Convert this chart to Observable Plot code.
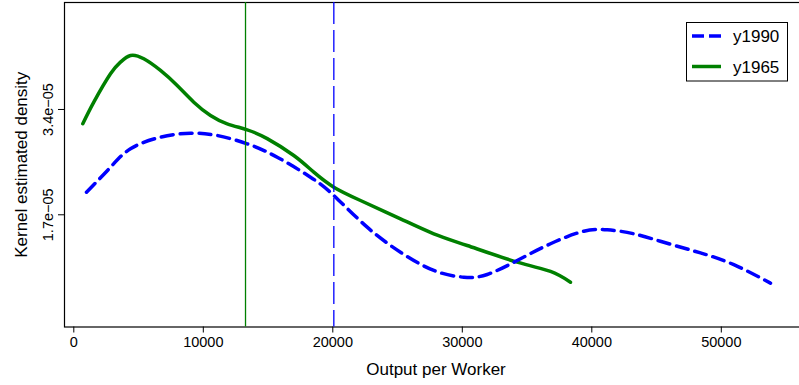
<!DOCTYPE html>
<html>
<head>
<meta charset="utf-8">
<script src="https://cdn.jsdelivr.net/npm/d3@7"></script>
<script src="https://cdn.jsdelivr.net/npm/@observablehq/plot@0.6"></script>
<style>
  html, body { margin: 0; padding: 0; background: #fff; }
  #chart { position: relative; width: 799px; height: 385px; overflow: hidden; }
  #chart svg { display: block; max-width: none !important; }
</style>
</head>
<body>
<div id="chart"></div>
<script>
// Kernel density estimates of output per worker, 1965 vs 1990
const x1990 = [981, 2834, 4378, 6695, 9012, 11073, 13390, 15707, 18278, 20077, 22656, 25228,
               27799, 30116, 31923, 34239, 36811, 39382, 41189, 43243, 45822, 48394, 50965, 53799];
const y1990 = [2.065e-5, 2.468e-5, 2.765e-5, 2.953e-5, 3.017e-5, 2.980e-5, 2.846e-5, 2.630e-5,
               2.307e-5, 2.012e-5, 1.500e-5, 1.096e-5, 0.801e-5, 0.693e-5, 0.736e-5, 0.962e-5,
               1.232e-5, 1.435e-5, 1.458e-5, 1.393e-5, 1.240e-5, 1.085e-5, 0.895e-5, 0.596e-5];

const x1965 = [695, 1544, 2834, 3606, 4378, 5405, 6695, 7985, 9266, 10556, 11846, 13390,
               14934, 16988, 18533, 20077, 22139, 25228, 27799, 30378, 34239, 36811, 38355];
const y1965 = [3.169e-5, 3.518e-5, 3.976e-5, 4.164e-5, 4.272e-5, 4.218e-5, 4.030e-5, 3.787e-5,
               3.518e-5, 3.303e-5, 3.169e-5, 3.072e-5, 2.930e-5, 2.657e-5, 2.388e-5, 2.146e-5,
               1.931e-5, 1.635e-5, 1.393e-5, 1.204e-5, 0.935e-5, 0.785e-5, 0.612e-5];

// sample means, marked with vertical rules
const mean1990 = 20080;
const mean1965 = 13260;

const seriesNames = ["y1990", "y1965"];
const seriesColors = ["#0000ff", "#008000"];

const xTicks = [0, 10000, 20000, 30000, 40000, 50000];
const yTicks = [1.7e-5, 3.4e-5];
const yTickLabels = ["1.7e\u221205", "3.4e\u221205"];

const xDomain = [-718, 56656];
const yDomain = [-1.114e-6, 5.127e-5];

const d1990 = x1990.map((x, i) => ({x, y: y1990[i]}));
const d1965 = x1965.map((x, i) => ({x, y: y1965[i]}));

const font = "'Liberation Sans', Arial, Helvetica, sans-serif";

const plot = Plot.plot({
  width: 808,
  height: 385,
  marginLeft: 64,
  marginRight: 1,
  marginTop: 2,
  marginBottom: 58.5,
  style: {fontFamily: font, fontSize: "14.5px", background: "white", color: "black", maxWidth: "none"},
  x: {domain: xDomain, ticks: xTicks, tickSize: 6, tickPadding: 4, tickFormat: d => String(d), label: null},
  y: {domain: yDomain, ticks: yTicks, tickSize: 6, tickFormat: () => "", label: null},
  marks: [
    Plot.frame({stroke: "black", strokeWidth: 1.2}),
    Plot.line(d1965, {x: "x", y: "y", stroke: seriesColors[1], strokeWidth: 3.5, curve: "natural"}),
    Plot.line(d1990, {x: "x", y: "y", stroke: seriesColors[0], strokeWidth: 3.5,
                      strokeDasharray: "12,7", curve: "natural"}),
    Plot.ruleX([mean1965], {stroke: seriesColors[1], strokeWidth: 1.3}),
    Plot.ruleX([mean1990], {stroke: seriesColors[0], strokeWidth: 1.3, strokeDasharray: "22,6"}),
    Plot.text(yTicks, {y: d => d, text: (d, i) => yTickLabels[i], frameAnchor: "left", dx: -12,
                       rotate: -90, textAnchor: "middle", lineAnchor: "bottom", fontSize: 14.5}),
    Plot.text(["Kernel estimated density"], {text: d => d, frameAnchor: "left", dx: -38,
                                              rotate: -90, textAnchor: "middle", lineAnchor: "bottom", fontSize: 17}),
    Plot.text(["Output per Worker"], {text: d => d, frameAnchor: "bottom", dy: 47.5,
                                       lineAnchor: "bottom", fontSize: 17})
  ]
});

const chart = document.getElementById("chart");
chart.appendChild(plot);

// legend box in the upper right corner of the panel
const leg = d3.select(chart).append("svg")
  .attr("width", 799).attr("height", 385)
  .style("position", "absolute").style("left", "0px").style("top", "0px")
  .style("font-family", font);
leg.append("rect")
  .attr("x", 686.5).attr("y", 22.5).attr("width", 101).attr("height", 58.5)
  .attr("fill", "white").attr("stroke", "black").attr("stroke-width", 1);
const rowY = [36, 66.5];
seriesNames.forEach((name, i) => {
  leg.append("line")
    .attr("x1", 692).attr("x2", 721).attr("y1", rowY[i]).attr("y2", rowY[i])
    .attr("stroke", seriesColors[i]).attr("stroke-width", 3.5)
    .attr("stroke-dasharray", i === 0 ? "12,5" : null);
  leg.append("text")
    .attr("x", 733).attr("y", rowY[i] + 6)
    .attr("font-size", 17).attr("fill", "black")
    .text(name);
});
</script>
</body>
</html>
